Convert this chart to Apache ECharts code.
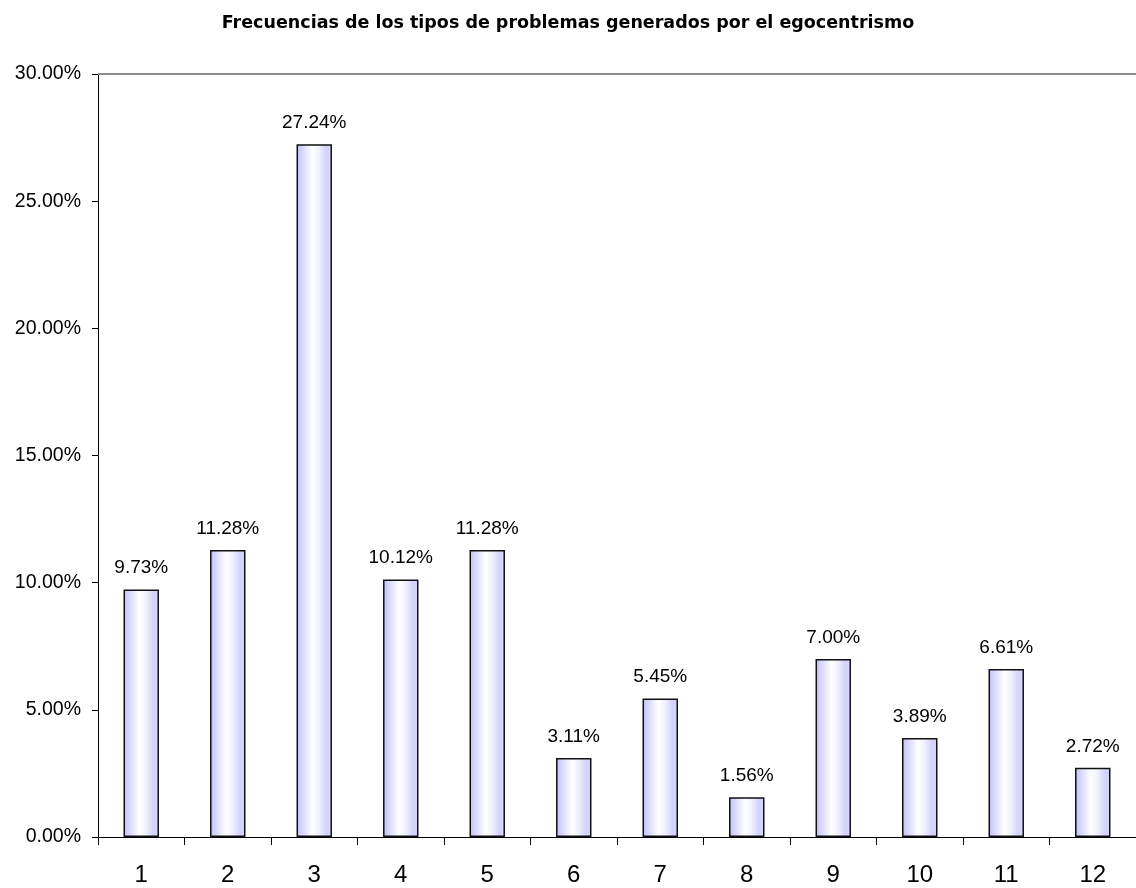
<!DOCTYPE html>
<html><head><meta charset="utf-8">
<script src="https://cdn.jsdelivr.net/npm/echarts@6/dist/echarts.min.js"></script>
<style>html,body{margin:0;padding:0;background:#fff}#c{width:1136px;height:888px}</style>
</head><body><div id="c"></div>
<script>
const title = 'Frecuencias de los tipos de problemas generados por el egocentrismo';
const categories = ['1','2','3','4','5','6','7','8','9','10','11','12'];
const values = [9.73, 11.28, 27.24, 10.12, 11.28, 3.11, 5.45, 1.56, 7.00, 3.89, 6.61, 2.72];
const yTicks = [0, 5, 10, 15, 20, 25, 30];

const chart = echarts.init(document.getElementById('c'));
chart.setOption({
  animation: false,
  backgroundColor: '#fff',
  title: {
    text: title, left: 'center', top: 9,
    textStyle: {fontFamily: 'DejaVu Sans', fontSize: 17.5, fontWeight: 'bold', color: '#000'}
  },
  grid: {left: 98, right: -2, top: 74, bottom: 51, containLabel: false},
  xAxis: {
    type: 'category', data: categories,
    axisLine: {lineStyle: {color: '#000', width: 1}},
    axisTick: {show: true, alignWithLabel: false, length: 8, lineStyle: {color: '#000'}},
    axisLabel: {fontFamily: 'Liberation Sans', fontSize: 24, color: '#000', margin: 26}
  },
  yAxis: {
    type: 'value', min: yTicks[0], max: yTicks[yTicks.length - 1], interval: 5,
    axisLine: {show: true, lineStyle: {color: '#000'}},
    axisTick: {show: true, length: 6, lineStyle: {color: '#000'}},
    splitLine: {show: false},
    axisLabel: {fontFamily: 'Liberation Sans', fontSize: 19.5, color: '#000', margin: 17,
      formatter: v => v.toFixed(2) + '%'}
  },
  series: [{
    type: 'bar', data: values, barWidth: '41%',
    itemStyle: {
      borderColor: '#111', borderWidth: 1.5,
      color: new echarts.graphic.LinearGradient(0, 0, 1, 0, [
        {offset: 0, color: '#c0c0fc'},
        {offset: 0.45, color: '#ffffff'},
        {offset: 0.62, color: '#f2f2ff'},
        {offset: 0.85, color: '#d2d2fb'},
        {offset: 1, color: '#dadafd'}
      ])
    },
    label: {show: true, position: 'top', distance: 12, fontFamily: 'Liberation Sans', fontSize: 19, color: '#000',
      formatter: p => p.value.toFixed(2) + '%'},
    markLine: {
      silent: true, symbol: 'none', label: {show: false},
      lineStyle: {color: '#8c8c8c', type: 'solid', width: 2},
      data: [{yAxis: yTicks[yTicks.length - 1]}]
    }
  }]
});
</script></body></html>
